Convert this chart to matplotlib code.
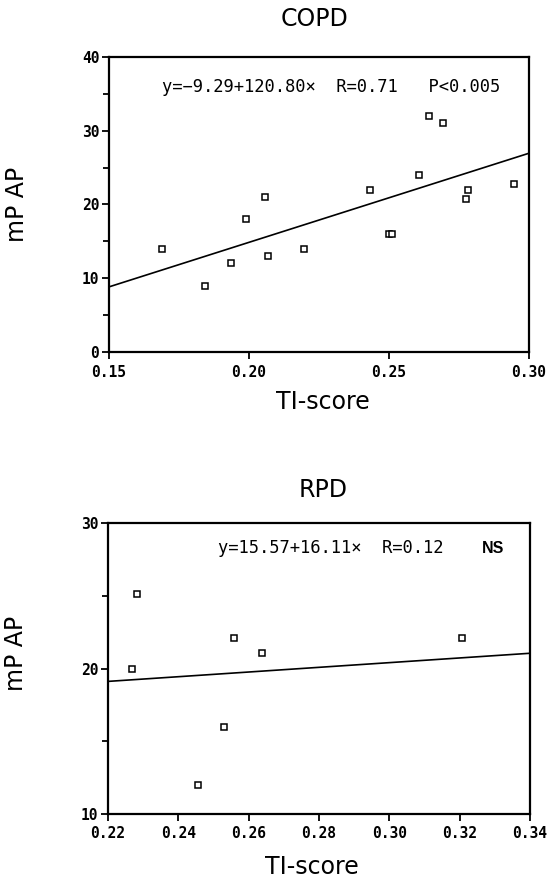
import matplotlib
matplotlib.use("Agg")
import matplotlib.pyplot as plt
import numpy as np

# COPD data
copd_x = [0.1691, 0.1842, 0.1934, 0.1988, 0.2057, 0.2067, 0.2197, 0.2433,
          0.2500, 0.2510, 0.2606, 0.2644, 0.2693, 0.2775, 0.2782, 0.2948]
copd_y = [14, 9, 12, 18, 21, 13, 14, 22, 16, 16, 24, 32, 31, 20.8, 22, 22.8]
copd_a, copd_b = -9.29, 120.80

# RPD data
rpd_x = [0.2268, 0.2284, 0.2456, 0.2529, 0.2559, 0.2639, 0.3208]
rpd_y = [20, 25.1, 12, 16, 22.1, 21.1, 22.1]
rpd_a, rpd_b = 15.57, 16.11

copd_xticks = [0.15, 0.20, 0.25, 0.30]
copd_xticklabels = ["0.15", "0.20", "0.25", "0.30"]
copd_yticks = [0, 10, 20, 30, 40]
rpd_xticks = [0.22, 0.24, 0.26, 0.28, 0.30, 0.32, 0.34]
rpd_xticklabels = ["0.22", "0.24", "0.26", "0.28", "0.30", "0.32", "0.34"]
rpd_yticks = [10, 20, 30]

fig = plt.figure(figsize=(5.48, 8.82), dpi=100)

tickfont = dict(family="DejaVu Sans Mono", weight="bold", size=10.5)
labelfont = dict(family="DejaVu Sans", size=17)
titlefont = dict(family="DejaVu Sans", size=17)
annfont = dict(family="DejaVu Sans Mono", size=12.3)


def style(ax, xlim, ylim, xticks, xticklabels, yticks, yminor):
    ax.set_xlim(*xlim)
    ax.set_ylim(*ylim)
    for s in ax.spines.values():
        s.set_linewidth(1.6)
    ax.set_xticks(xticks)
    ax.set_xticklabels(xticklabels, **tickfont)
    ax.set_yticks(yticks)
    ax.set_yticklabels([str(t) for t in yticks], **tickfont)
    ax.set_yticks(yminor, minor=True)
    ax.tick_params(axis="x", which="major", direction="out", length=5,
                   width=1.3, pad=4)
    ax.tick_params(axis="y", which="major", direction="out", length=5,
                   width=1.3, pad=2)
    ax.tick_params(axis="y", which="minor", direction="out", length=4,
                   width=1.3)


# Top panel
ax1 = fig.add_axes([0.1989, 0.6009, 0.7664, 0.3345])
ax1.plot(copd_x, copd_y, linestyle="none", marker="s", markersize=5,
         markerfacecolor="white", markeredgecolor="black", markeredgewidth=1.1,
         zorder=3)
xl = np.array([0.15, 0.30])
ax1.plot(xl, copd_a + copd_b * xl, color="black", linewidth=1.2)
style(ax1, (0.15, 0.30), (0, 40), copd_xticks, copd_xticklabels, copd_yticks,
      [5, 15, 25, 35])
ax1.text(0.49, 1.129, "COPD", transform=ax1.transAxes, ha="center",
         va="center", **titlefont)
ax1.set_xlabel("TI-score", va="center", **labelfont)
ax1.xaxis.set_label_coords(0.51, -0.169)
ax1.set_ylabel("mP AP", va="center", **labelfont)
ax1.yaxis.set_label_coords(-0.219, 0.5)
ax1.text(0.126, 0.898, "y=−9.29+120.80×  R=0.71   P<0.005",
         transform=ax1.transAxes, va="center", ha="left", **annfont)

# Bottom panel
ax2 = fig.add_axes([0.197, 0.0771, 0.770, 0.3299])
ax2.plot(rpd_x, rpd_y, linestyle="none", marker="s", markersize=5,
         markerfacecolor="white", markeredgecolor="black", markeredgewidth=1.1,
         zorder=3)
xl2 = np.array([0.22, 0.34])
ax2.plot(xl2, rpd_a + rpd_b * xl2, color="black", linewidth=1.2)
style(ax2, (0.22, 0.34), (10, 30), rpd_xticks, rpd_xticklabels, rpd_yticks,
      [15, 25])
ax2.text(0.51, 1.113, "RPD", transform=ax2.transAxes, ha="center",
         va="center", **titlefont)
ax2.set_xlabel("TI-score", va="center", **labelfont)
ax2.xaxis.set_label_coords(0.483, -0.182)
ax2.set_ylabel("mP AP", va="center", **labelfont)
ax2.yaxis.set_label_coords(-0.218, 0.553)
ax2.text(0.261, 0.914, "y=15.57+16.11×  R=0.12",
         transform=ax2.transAxes, va="center", ha="left", **annfont)
ax2.text(0.886, 0.914, "NS", transform=ax2.transAxes, va="center", ha="left",
         family="Liberation Sans", weight="bold", size=11.5)

fig.savefig("out.png", dpi=100)
